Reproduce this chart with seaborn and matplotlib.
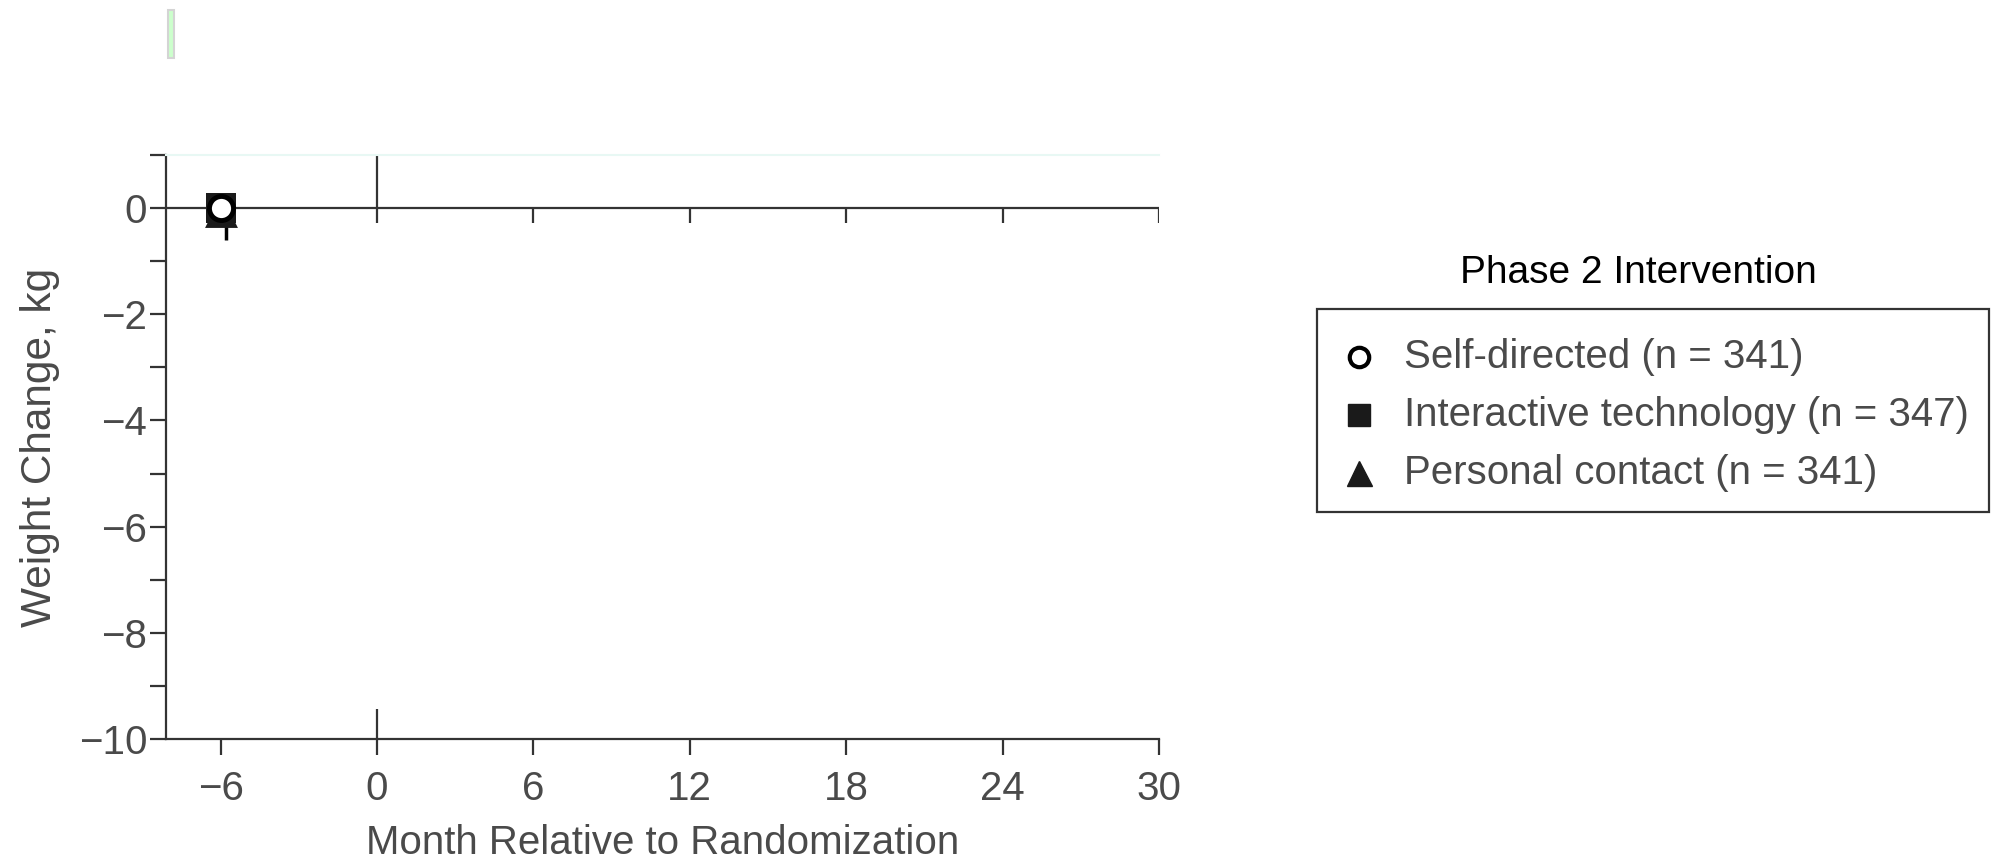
import matplotlib
matplotlib.use("Agg")
import matplotlib.pyplot as plt
import seaborn as sns
import pandas as pd
from matplotlib.lines import Line2D
from matplotlib.patches import Rectangle

# Phase 2 groups: baseline weight change at month -6
groups = ["Self-directed (n = 341)", "Interactive technology (n = 347)", "Personal contact (n = 341)"]
months = [-6, -6, -6]
weight_change = [0.0, 0.0, 0.0]
# draw order: triangle at the back, circle on top
draw_order = [2, 1, 0]

# small lower error segment visible below the baseline markers
err_month = [-5.8]
err_top = [-0.32]
err_bottom = [-0.6]

x_ticks = [-6, 0, 6, 12, 18, 24, 30]
y_major = [0, -2, -4, -6, -8, -10]
y_minor = [1, -1, -3, -5, -7, -9]

sns.set_theme(style="white")
plt.rcParams["font.family"] = ["Liberation Sans", "DejaVu Sans"]

ink = "#333333"
label_col = "#4a4a4a"
W, H = 1992, 864

fig = plt.figure(figsize=(W / 100, H / 100), dpi=100)
ax = fig.add_axes([0.0833, 0.1447, 0.4985, 0.6759])

df = pd.DataFrame({"month": months, "change": weight_change, "group": groups})

marker_style = {
    groups[0]: dict(marker="o", s=300, color="white", edgecolor="black", linewidth=3.5),
    groups[1]: dict(marker="s", s=490, color="#1a1a1a", edgecolor="#1a1a1a", linewidth=0),
    groups[2]: dict(marker="^", s=560, color="#1a1a1a", edgecolor="#1a1a1a", linewidth=0),
}

ax.vlines(err_month, err_bottom, err_top, color="black", lw=2.5, zorder=3)
for i in draw_order:
    sub = df[df["group"] == groups[i]]
    st = marker_style[groups[i]]
    off = 0.05 if i == 2 else 0.0
    sns.scatterplot(data=sub.assign(change=sub["change"] - off), x="month", y="change",
                    ax=ax, zorder=5 + (2 - i), legend=False, **st)

ax.set_xlim(-8.1, 30)
ax.set_ylim(-10, 1)

# reference lines: baseline at 0 kg and randomization at month 0
ax.hlines(0, -8.1, 30, color=ink, lw=1.6, zorder=2)
ax.vlines(x_ticks[2:], -0.28, 0, color=ink, lw=1.6, zorder=2)
ax.vlines(0, -0.28, 1, color=ink, lw=1.6, zorder=2)
ax.vlines(0, -10, -9.44, color=ink, lw=1.6, zorder=2)

ax.spines["right"].set_visible(False)
ax.spines["top"].set_color("#e8f8f4")
ax.spines["top"].set_linewidth(1.5)
for side in ["left", "bottom"]:
    ax.spines[side].set_color(ink)
    ax.spines[side].set_linewidth(1.6)

ax.set_xticks(x_ticks)
ax.set_xticklabels([f"{t:d}".replace("-", "\u2212") for t in x_ticks])
ax.set_yticks(y_major)
ax.set_yticklabels([f"{t:d}".replace("-", "\u2212") for t in y_major])
ax.set_yticks(y_minor, minor=True)
ax.tick_params(axis="both", which="both", direction="out", length=11.5, width=1.6,
               color=ink, labelcolor=label_col, labelsize=29)
ax.tick_params(axis="y", which="major", pad=2, left=True)
ax.tick_params(axis="y", which="minor", left=True)
ax.tick_params(axis="x", which="major", pad=11, bottom=True)

ax.set_xlabel("Month Relative to Randomization", fontsize=29, color=label_col, labelpad=11)
ax.set_ylabel("")
fig.text(40 / W, 1 - 447 / H, "Weight Change, kg", fontsize=30.5, color=label_col,
         rotation=90, ha="center", va="center")

# legend panel: title, frame, keys and labels
fig.text(1460 / W, 1 - 283 / H, "Phase 2 Intervention", fontsize=28, color="black",
         ha="left", va="baseline")
fig.add_artist(Rectangle((1317 / W, 1 - 512 / H), (1989 - 1317) / W, (512 - 309) / H,
                         transform=fig.transFigure, facecolor="none",
                         edgecolor=ink, linewidth=1.6))
row_y = [357, 415, 473]
key_style = [
    dict(marker="o", markersize=14, markerfacecolor="white", markeredgecolor="black",
         markeredgewidth=3),
    dict(marker="s", markersize=16, markerfacecolor="#1a1a1a", markeredgecolor="#1a1a1a"),
    dict(marker="^", markersize=18, markerfacecolor="#1a1a1a", markeredgecolor="#1a1a1a"),
]
for yy, lab, ks in zip(row_y, groups, key_style):
    fig.add_artist(Line2D([1359 / W], [1 - yy / H], transform=fig.transFigure,
                          linestyle="none", **ks))
    fig.text(1404 / W, 1 - yy / H, lab, fontsize=29, color=label_col,
             ha="left", va="center")

# small highlight marker at the top-left corner
fig.add_artist(Rectangle((168 / W, 1 - 58 / H), 6 / W, 48 / H,
                         transform=fig.transFigure, facecolor="#ccffcc",
                         edgecolor="#d4d4d4", linewidth=1.5))

fig.savefig("out.png", dpi=100, facecolor="white")
